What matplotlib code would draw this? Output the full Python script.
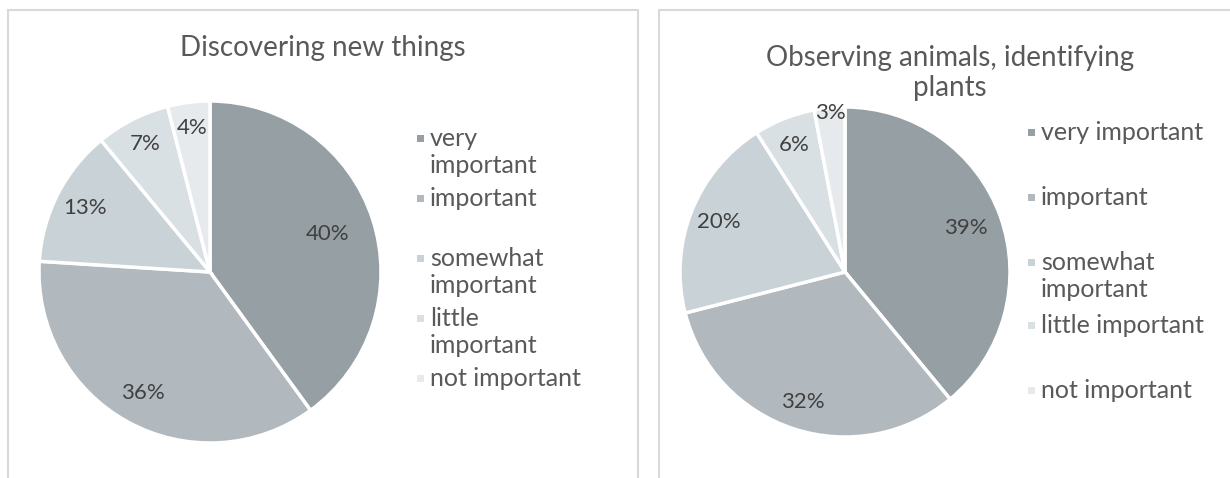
import matplotlib.pyplot as plt
from matplotlib.patches import Rectangle

plt.rcParams["font.family"] = ["Lato", "DejaVu Sans"]

# importance ratings for the two survey questions
categories = ["very important", "important", "somewhat important",
              "little important", "not important"]
discover_vals = [40, 36, 13, 7, 4]
observe_vals = [39, 32, 20, 6, 3]

titles = ["Discovering new things", "Observing animals, identifying\nplants"]
legend_labels_left = ["very\nimportant", "important", "somewhat\nimportant",
                      "little\nimportant", "not important"]
legend_labels_right = ["very important", "important", "somewhat\nimportant",
                       "little important", "not important"]

colors = ["#969fa4", "#b1b9be", "#c9d2d6", "#d9e0e3", "#e6eaec"]

W, H = 1230, 478
fig = plt.figure(figsize=(W / 100, H / 100), dpi=100)


def px(x, y):
    # pixel coords (origin top-left) -> figure fraction
    return x / W, 1 - y / H


# chart area frames
for x0, x1 in [(8, 638), (659, 1260)]:
    fig.add_artist(Rectangle(px(x0, 490), (x1 - x0) / W, 480 / H,
                             transform=fig.transFigure, fill=False,
                             edgecolor="#d9d9d9", linewidth=1.5))


def draw_pie(values, cx, cy, r, title, title_xy, leg_labels, leg_x, leg_ys,
             pct_dist):
    ax = fig.add_axes([(cx - r) / W, (H - cy - r) / H, 2 * r / W, 2 * r / H])
    wedges, texts, autotexts = ax.pie(
        values, colors=colors, startangle=90, counterclock=False,
        autopct="%d%%", pctdistance=0.8,
        wedgeprops=dict(edgecolor="white", linewidth=2.5),
        textprops=dict(color="#404040", fontsize=16))
    for t, d in zip(autotexts, pct_dist):
        x, y = t.get_position()
        s = d / 0.8
        t.set_position((x * s, y * s))
    ax.set_xlim(-1, 1)
    ax.set_ylim(-1, 1)
    ax.axis("off")

    fx, fy = px(*title_xy)
    fig.text(fx, fy, title, ha="center", va="center", fontsize=20,
             color="#595959", linespacing=1.15)

    for lab, col, ly in zip(leg_labels, colors, leg_ys):
        mx, my = px(leg_x, ly)
        fig.add_artist(Rectangle((mx - 4 / W, my - 3.5 / H), 7 / W, 7 / H,
                                 transform=fig.transFigure, color=col,
                                 linewidth=0))
        tx, ty = px(leg_x + 9, ly - 11)
        fig.text(tx, ty, lab, ha="left", va="top", fontsize=18,
                 color="#595959", linespacing=1.2)


draw_pie(discover_vals, 210, 272, 171, titles[0], (323, 48),
         legend_labels_left, 421, [138, 198, 258, 318, 378],
         [0.72, 0.81, 0.82, 0.84, 0.85])
draw_pie(observe_vals, 845, 272, 165, titles[1], (950, 73),
         legend_labels_right, 1032, [132, 197, 262, 325, 390],
         [0.78, 0.83, 0.82, 0.83, 0.97])

fig.savefig("out.png", dpi=100, facecolor="white")
